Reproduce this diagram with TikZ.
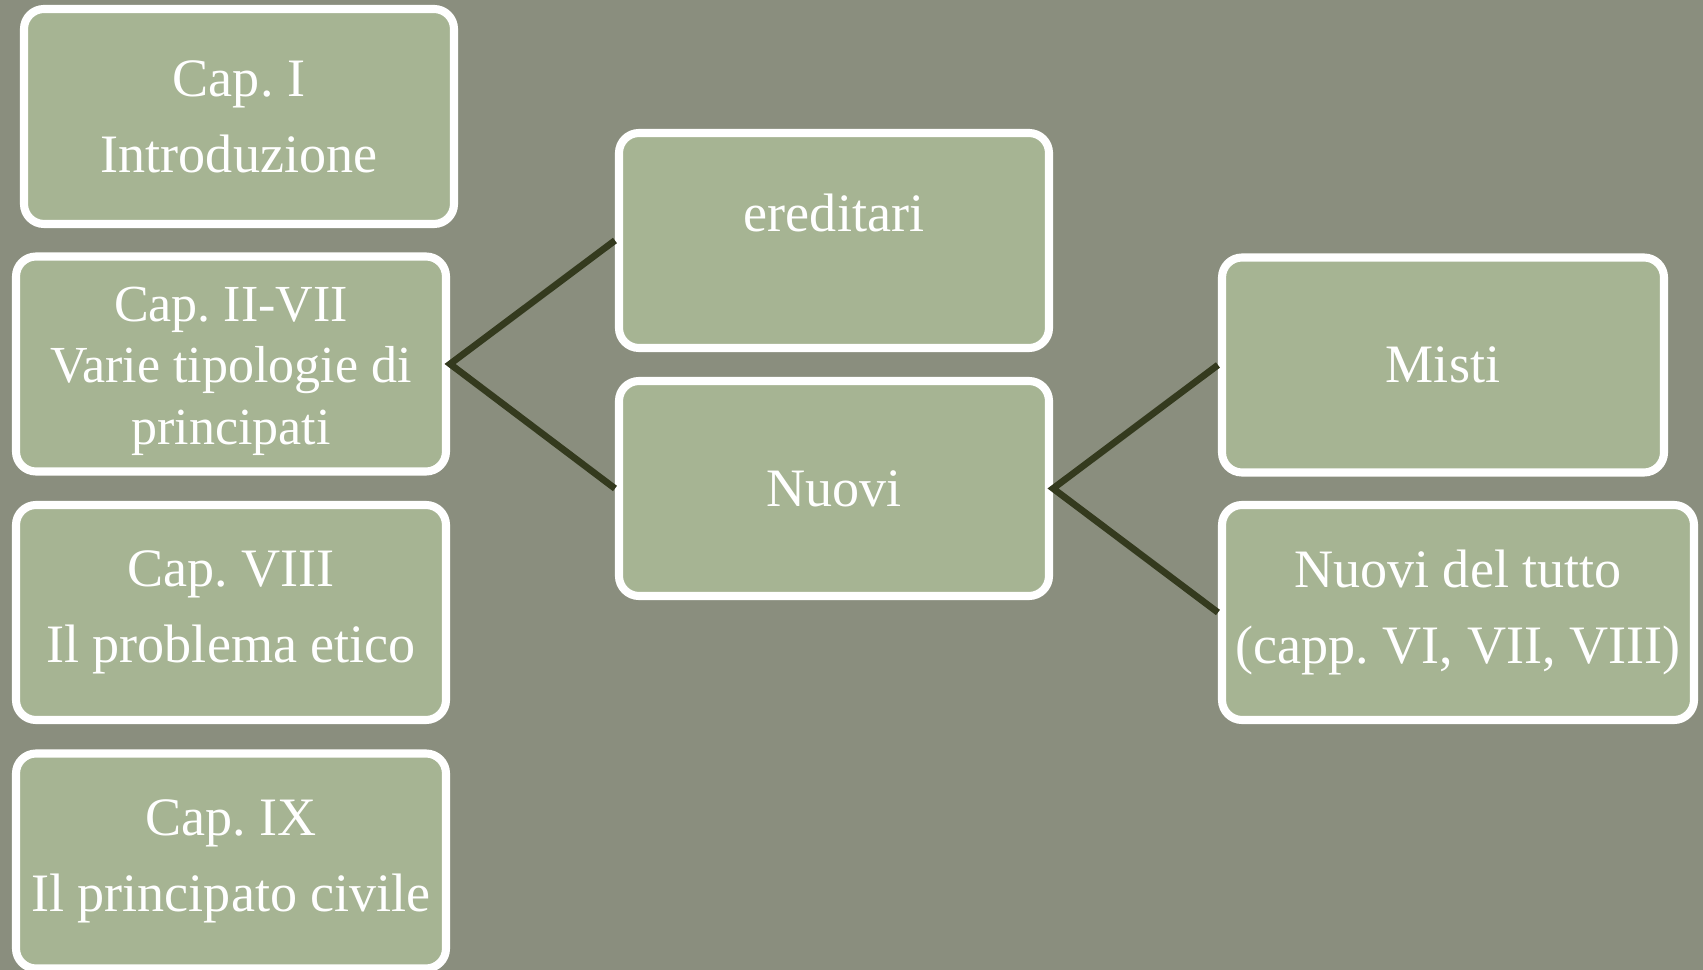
\documentclass[tikz,border=0pt]{standalone}
\usepackage{fontspec}
\setmainfont{Liberation Serif}
\frenchspacing
\definecolor{bgsage}{HTML}{8A8E7E}
\definecolor{boxsage}{HTML}{A6B493}
\definecolor{linkolive}{HTML}{343A1E}

\begin{document}
\begin{tikzpicture}[
        chap/.style={draw=white, fill=boxsage, line width=2.3pt,
          rounded corners=0.2cm, minimum width=4.30cm, minimum height=2.15cm,
          inner sep=1pt, align=center, text=white,
          font=\fontsize{15.4}{21.6}\selectfont},
        link/.style={draw=linkolive, line width=1.9pt},
      ]
      % Background
      \useasboundingbox (0,0) rectangle (17.03,9.70);
      \fill[bgsage] (0,0) rectangle (17.03,9.70);

      % Left column: chapters
      \node[chap] (capI) at (2.39,8.535) {Cap. I\\Introduzione};
      \node[chap, font=\fontsize{14.8}{17.6}\selectfont] (capII) at (2.31,6.06)
        {\rule{0pt}{0.49cm}Cap. II-VII\\Varie tipologie di\\principati};
      \node[chap] (capVIII) at (2.31,3.575) {Cap. VIII\\Il problema etico};
      \node[chap] (capIX) at (2.31,1.09) {Cap. IX\\Il principato civile};

      % Middle column: kinds of principati
      \node[chap] (ered) at (8.34,7.295) {ereditari\\[-6pt]~};
      \node[chap] (nuovi) at (8.34,4.815) {Nuovi};

      % Right column: kinds of new principati
      \node[chap, minimum width=4.42cm] (misti) at (14.43,6.05) {Misti};
      \node[chap, minimum width=4.72cm] (tutto) at (14.58,3.575)
        {Nuovi del tutto\\(capp. VI, VII, VIII)};

      % Branches
      \draw[link] (ered.west) -- (capII.east) -- (nuovi.west);
      \draw[link] (misti.west) -- (nuovi.east) -- (tutto.west);
    \end{tikzpicture}
\end{document}
